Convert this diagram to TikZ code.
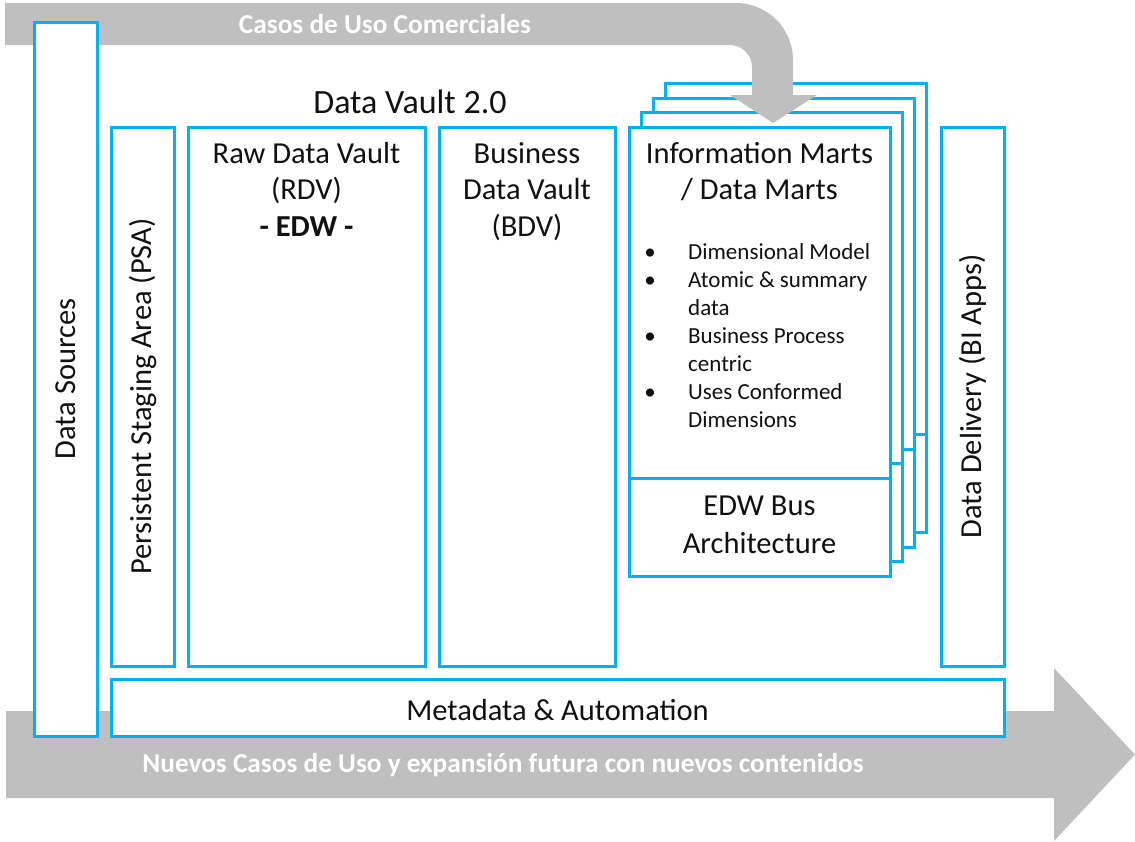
\documentclass[tikz,border=0pt]{standalone}
\usepackage{fontspec}
\setmainfont{Carlito}
\usetikzlibrary{fit}
\definecolor{dvblue}{HTML}{00B0F0}
\definecolor{arrowgray}{HTML}{BFBFBF}
\definecolor{ink}{HTML}{111111}
\begin{document}
\begin{tikzpicture}[x=1pt,y=-1pt,
  box/.style={draw=dvblue, line width=3pt, fill=white, inner sep=0pt},
  bline/.style={draw=dvblue, line width=3pt},
  lbl/.style={font=\fontsize{30.5}{36}\selectfont, text=ink, inner sep=0pt},
  lblb/.style={font=\fontsize{30.5}{36}\selectfont\bfseries, text=ink, inner sep=0pt},
  small/.style={font=\fontsize{23}{28}\selectfont, text=ink, inner sep=0pt},
  banner/.style={font=\fontsize{27.3}{31}\selectfont\bfseries, text=white, inner sep=0pt},
  title/.style={font=\fontsize{34}{40}\selectfont, text=ink, inner sep=0pt}]
\useasboundingbox (0,0) rectangle (1135,841);

% lower band: new use cases and future expansion
\fill[arrowgray] (6,711) -- (1054,711) -- (1054,668) -- (1135,754.5)
  -- (1054,841) -- (1054,798) -- (6,798) -- cycle;

% stacked information mart sheets, back to front
\foreach \k in {3,2,1}{
  \node[box, fit={(629+12*\k,127-14.5*\k) (890+12*\k,576-14.5*\k)}] (im\k) {};
  \draw[bline] (629+12*\k,478-14.5*\k) -- (890+12*\k,478-14.5*\k);
}
\node[box, fit={(629,127) (890,576)}] (im) {};
\draw[bline] (629,478) -- (890,478);

% upper band: commercial use cases, bending down into the marts
\fill[arrowgray] (5,3) -- (736,3) .. controls (767.5,3) and (793,28.5) .. (793,60)
  -- (793,95) -- (817,95) -- (773,123) -- (730,95) -- (752,95) -- (752,67)
  .. controls (752,54.9) and (742.1,45) .. (730,45) -- (5,45) -- cycle;

% layer boxes
\node[box, fit={(34,22) (97,736)}] (src) {};
\node[box, fit={(111,679) (1004,736)}] (meta) {};
\node[box, fit={(111,127) (174,666)}] (psa) {};
\node[box, fit={(188,127) (425,666)}] (rdv) {};
\node[box, fit={(439,127) (615,666)}] (bdv) {};
\node[box, fit={(941,127) (1004,666)}] (dd) {};

% band texts
\node[banner, anchor=base] (uc) at (385,33) {Casos de Uso Comerciales};
\node[banner, anchor=base] (nuc) at (503,772) {Nuevos Casos de Uso y expansión futura con nuevos contenidos};

% titles
\node[title, anchor=base] (dv) at (410,113) {Data Vault 2.0};
\node[lbl, rotate=90] (srct) at (src.center) {Data Sources};
\node[lbl, rotate=90] (psat) at (psa.center) {Persistent Staging Area (PSA)};
\node[lbl, rotate=90] (ddt) at (dd.center) {Data Delivery (BI Apps)};
\node[lbl, anchor=base] (metat) at (557.5,720) {Metadata \& Automation};

\node[lbl, anchor=base] (rdv1) at (306.5,163.5) {Raw Data Vault};
\node[lbl, anchor=base] (rdv2) at (306.5,199.5) {(RDV)};
\node[lblb, anchor=base] (rdv3) at (306.5,236) {- EDW -};

\node[lbl, anchor=base] (bdv1) at (527,163.5) {Business};
\node[lbl, anchor=base] (bdv2) at (527,199.5) {Data Vault};
\node[lbl, anchor=base] (bdv3) at (527,236) {(BDV)};

\node[lbl, anchor=base] (im1t) at (759.5,163.5) {Information Marts};
\node[lbl, anchor=base] (im2t) at (759.5,199.5) {/ Data Marts};

% bullet list
\foreach \y/\t/\b in {259/Dimensional Model/1, 287/Atomic \& summary/1, 315/data/0,
                     343/Business Process/1, 371/centric/0, 399/Uses Conformed/1,
                     427/Dimensions/0}{
  \node[small, anchor=base west] (bl\y) at (688,\y) {\t};
  \ifnum\b=1 \node[small, anchor=base] (bu\y) at (650,\y) {•};\fi
}

\node[lbl, anchor=base] (bus1) at (759.5,515) {EDW Bus};
\node[lbl, anchor=base] (bus2) at (759.5,553) {Architecture};
\end{tikzpicture}
\end{document}
